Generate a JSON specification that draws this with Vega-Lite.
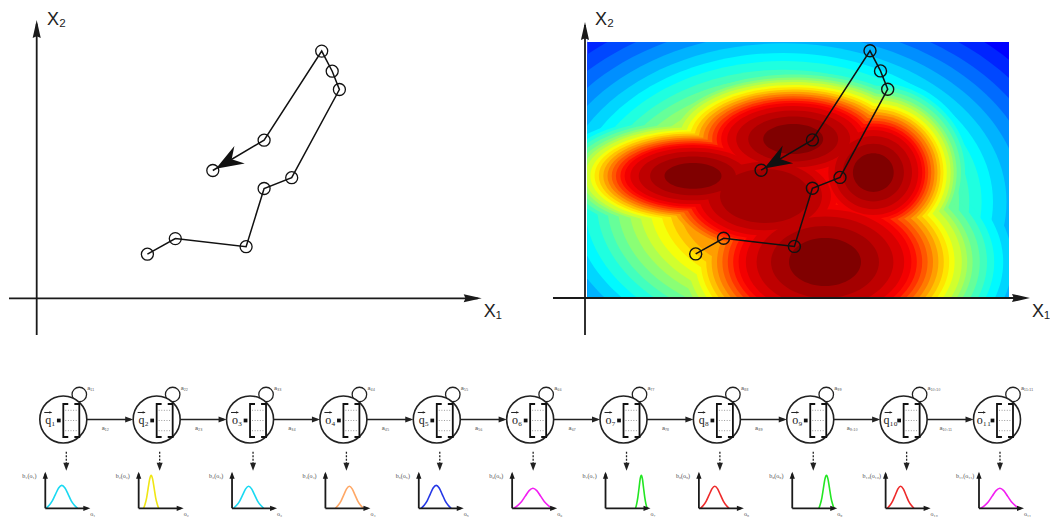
{
  "$schema": "https://vega.github.io/schema/vega-lite/v6.json",
  "padding": 0,
  "background": "white",
  "bounds": "full",
  "spacing": 0,
  "config": {"view": {"stroke": null}},
  "resolve": {"scale": {"color": "independent", "size": "independent", "shape": "independent"}},
  "datasets": {
    "traj": [
      {"k": 1, "x": 3.69, "y": 1.47},
      {"k": 2, "x": 4.62, "y": 1.99},
      {"k": 3, "x": 6.98, "y": 1.72},
      {"k": 4, "x": 7.58, "y": 3.66},
      {"k": 5, "x": 8.5, "y": 4.02},
      {"k": 6, "x": 10.09, "y": 6.96},
      {"k": 7, "x": 9.85, "y": 7.57},
      {"k": 8, "x": 9.5, "y": 8.24},
      {"k": 9, "x": 7.58, "y": 5.27},
      {"k": 10, "x": 5.87, "y": 4.26}
    ],
    "blobs": [
      {"b": "M", "cx": 6.6, "cy": 3.2},
      {"b": "L", "cx": 3.6, "cy": 4.07},
      {"b": "U", "cx": 6.94, "cy": 5.3},
      {"b": "C", "cx": 6.0, "cy": 3.4},
      {"b": "R", "cx": 9.61, "cy": 4.18},
      {"b": "B", "cx": 8.0, "cy": 1.2}
    ],
    "levels": [
      {"b": "M", "lv": 0.04, "r": 10.07}, {"b": "L", "lv": 0.04, "r": 6.65}, {"b": "U", "lv": 0.04, "r": 7.0}, {"b": "C", "lv": 0.04, "r": 7.0}, {"b": "R", "lv": 0.04, "r": 4.75}, {"b": "B", "lv": 0.04, "r": 8.4},
      {"b": "M", "lv": 0.08, "r": 9.52}, {"b": "L", "lv": 0.08, "r": 6.27}, {"b": "U", "lv": 0.08, "r": 6.6}, {"b": "C", "lv": 0.08, "r": 6.6}, {"b": "R", "lv": 0.08, "r": 4.48}, {"b": "B", "lv": 0.08, "r": 7.92},
      {"b": "M", "lv": 0.12, "r": 8.97}, {"b": "L", "lv": 0.12, "r": 5.89}, {"b": "U", "lv": 0.12, "r": 6.2}, {"b": "C", "lv": 0.12, "r": 6.2}, {"b": "R", "lv": 0.12, "r": 4.21}, {"b": "B", "lv": 0.12, "r": 7.44},
      {"b": "M", "lv": 0.16, "r": 8.45}, {"b": "L", "lv": 0.16, "r": 5.56}, {"b": "U", "lv": 0.16, "r": 5.85}, {"b": "C", "lv": 0.16, "r": 5.85}, {"b": "R", "lv": 0.16, "r": 3.97}, {"b": "B", "lv": 0.16, "r": 7.02},
      {"b": "M", "lv": 0.2, "r": 7.94}, {"b": "L", "lv": 0.2, "r": 5.23}, {"b": "U", "lv": 0.2, "r": 5.5}, {"b": "C", "lv": 0.2, "r": 5.5}, {"b": "R", "lv": 0.2, "r": 3.74}, {"b": "B", "lv": 0.2, "r": 6.6},
      {"b": "M", "lv": 0.24, "r": 7.45}, {"b": "L", "lv": 0.24, "r": 4.94}, {"b": "U", "lv": 0.24, "r": 5.2}, {"b": "C", "lv": 0.24, "r": 5.2}, {"b": "R", "lv": 0.24, "r": 3.53}, {"b": "B", "lv": 0.24, "r": 6.24},
      {"b": "M", "lv": 0.28, "r": 7.0}, {"b": "L", "lv": 0.28, "r": 4.7}, {"b": "U", "lv": 0.28, "r": 4.95}, {"b": "C", "lv": 0.28, "r": 4.95}, {"b": "R", "lv": 0.28, "r": 3.36}, {"b": "B", "lv": 0.28, "r": 5.94},
      {"b": "M", "lv": 0.32, "r": 6.62}, {"b": "L", "lv": 0.32, "r": 4.47}, {"b": "U", "lv": 0.32, "r": 4.7}, {"b": "C", "lv": 0.32, "r": 4.7}, {"b": "R", "lv": 0.32, "r": 3.19}, {"b": "B", "lv": 0.32, "r": 5.64},
      {"b": "M", "lv": 0.36, "r": 6.21}, {"b": "L", "lv": 0.36, "r": 4.28}, {"b": "U", "lv": 0.36, "r": 4.5}, {"b": "C", "lv": 0.36, "r": 4.5}, {"b": "R", "lv": 0.36, "r": 3.06}, {"b": "B", "lv": 0.36, "r": 5.4},
      {"b": "M", "lv": 0.4, "r": 5.87}, {"b": "L", "lv": 0.4, "r": 4.09}, {"b": "U", "lv": 0.4, "r": 4.3}, {"b": "C", "lv": 0.4, "r": 4.3}, {"b": "R", "lv": 0.4, "r": 2.92}, {"b": "B", "lv": 0.4, "r": 5.16},
      {"b": "M", "lv": 0.44, "r": 5.52}, {"b": "L", "lv": 0.44, "r": 3.9}, {"b": "U", "lv": 0.44, "r": 4.1}, {"b": "C", "lv": 0.44, "r": 4.1}, {"b": "R", "lv": 0.44, "r": 2.78}, {"b": "B", "lv": 0.44, "r": 4.92},
      {"b": "M", "lv": 0.48, "r": 5.14}, {"b": "L", "lv": 0.48, "r": 3.75}, {"b": "U", "lv": 0.48, "r": 3.95}, {"b": "C", "lv": 0.48, "r": 3.95}, {"b": "R", "lv": 0.48, "r": 2.68}, {"b": "B", "lv": 0.48, "r": 4.74},
      {"b": "M", "lv": 0.52, "r": 4.8}, {"b": "L", "lv": 0.52, "r": 3.61}, {"b": "U", "lv": 0.52, "r": 3.8}, {"b": "C", "lv": 0.52, "r": 3.8}, {"b": "R", "lv": 0.52, "r": 2.58}, {"b": "B", "lv": 0.52, "r": 4.56},
      {"b": "M", "lv": 0.56, "r": 4.45}, {"b": "L", "lv": 0.56, "r": 3.42}, {"b": "U", "lv": 0.56, "r": 3.6}, {"b": "C", "lv": 0.56, "r": 3.6}, {"b": "R", "lv": 0.56, "r": 2.45}, {"b": "B", "lv": 0.56, "r": 4.32},
      {"b": "M", "lv": 0.6, "r": 4.1}, {"b": "L", "lv": 0.6, "r": 3.28}, {"b": "U", "lv": 0.6, "r": 3.45}, {"b": "C", "lv": 0.6, "r": 3.45}, {"b": "R", "lv": 0.6, "r": 2.34}, {"b": "B", "lv": 0.6, "r": 4.14},
      {"b": "M", "lv": 0.64, "r": 3.8}, {"b": "L", "lv": 0.64, "r": 3.14}, {"b": "U", "lv": 0.64, "r": 3.3}, {"b": "C", "lv": 0.64, "r": 3.3}, {"b": "R", "lv": 0.64, "r": 2.24}, {"b": "B", "lv": 0.64, "r": 3.96},
      {"b": "M", "lv": 0.68, "r": 3.48}, {"b": "L", "lv": 0.68, "r": 2.99}, {"b": "U", "lv": 0.68, "r": 3.15}, {"b": "C", "lv": 0.68, "r": 3.15}, {"b": "R", "lv": 0.68, "r": 2.14}, {"b": "B", "lv": 0.68, "r": 3.78},
      {"b": "L", "lv": 0.72, "r": 2.85}, {"b": "U", "lv": 0.72, "r": 3.0}, {"b": "C", "lv": 0.72, "r": 3.0}, {"b": "R", "lv": 0.72, "r": 2.04}, {"b": "B", "lv": 0.72, "r": 3.6},
      {"b": "L", "lv": 0.76, "r": 2.71}, {"b": "U", "lv": 0.76, "r": 2.85}, {"b": "C", "lv": 0.76, "r": 2.85}, {"b": "R", "lv": 0.76, "r": 1.93}, {"b": "B", "lv": 0.76, "r": 3.42},
      {"b": "L", "lv": 0.8, "r": 2.57}, {"b": "U", "lv": 0.8, "r": 2.7}, {"b": "C", "lv": 0.8, "r": 2.7}, {"b": "R", "lv": 0.8, "r": 1.83}, {"b": "B", "lv": 0.8, "r": 3.24},
      {"b": "L", "lv": 0.84, "r": 2.42}, {"b": "U", "lv": 0.84, "r": 2.55}, {"b": "C", "lv": 0.84, "r": 2.55}, {"b": "R", "lv": 0.84, "r": 1.73}, {"b": "B", "lv": 0.84, "r": 3.06},
      {"b": "L", "lv": 0.87, "r": 2.28}, {"b": "U", "lv": 0.87, "r": 2.4}, {"b": "C", "lv": 0.87, "r": 2.4}, {"b": "R", "lv": 0.87, "r": 1.63}, {"b": "B", "lv": 0.87, "r": 2.88},
      {"b": "L", "lv": 0.9, "r": 2.09}, {"b": "U", "lv": 0.9, "r": 2.2}, {"b": "C", "lv": 0.9, "r": 2.2}, {"b": "R", "lv": 0.9, "r": 1.5}, {"b": "B", "lv": 0.9, "r": 2.64},
      {"b": "L", "lv": 0.93, "r": 1.81}, {"b": "U", "lv": 0.93, "r": 1.9}, {"b": "C", "lv": 0.93, "r": 1.9}, {"b": "R", "lv": 0.93, "r": 1.29}, {"b": "B", "lv": 0.93, "r": 2.28},
      {"b": "L", "lv": 0.96, "r": 1.43}, {"b": "U", "lv": 0.96, "r": 1.5}, {"b": "C", "lv": 0.96, "r": 1.5}, {"b": "R", "lv": 0.96, "r": 1.02}, {"b": "B", "lv": 0.96, "r": 1.8},
      {"b": "L", "lv": 1.0, "r": 0.95}, {"b": "U", "lv": 1.0, "r": 1.0}, {"b": "R", "lv": 1.0, "r": 0.68}, {"b": "B", "lv": 1.0, "r": 1.2}
    ],
    "states": [
      {"t": 1, "v": "q₁", "a": "a₁₁", "b": "b₁(o₁)", "o": "o₁"},
      {"t": 2, "v": "q₂", "a": "a₂₂", "b": "b₂(o₂)", "o": "o₂"},
      {"t": 3, "v": "o₃", "a": "a₃₃", "b": "b₃(o₃)", "o": "o₃"},
      {"t": 4, "v": "o₄", "a": "a₄₄", "b": "b₄(o₄)", "o": "o₄"},
      {"t": 5, "v": "q₅", "a": "a₅₅", "b": "b₅(o₅)", "o": "o₅"},
      {"t": 6, "v": "o₆", "a": "a₆₆", "b": "b₆(o₆)", "o": "o₆"},
      {"t": 7, "v": "o₇", "a": "a₇₇", "b": "b₇(o₇)", "o": "o₇"},
      {"t": 8, "v": "q₈", "a": "a₈₈", "b": "b₈(o₈)", "o": "o₈"},
      {"t": 9, "v": "o₉", "a": "a₉₉", "b": "b₉(o₉)", "o": "o₉"},
      {"t": 10, "v": "q₁₀", "a": "a₁₀,₁₀", "b": "b₁₀(o₁₀)", "o": "o₁₀"},
      {"t": 11, "v": "o₁₁", "a": "a₁₁,₁₁", "b": "b₁₁(o₁₁)", "o": "o₁₁"}
    ],
    "trans": [
      {"t": 1, "n": 2, "lab": "a₁₂"}, {"t": 2, "n": 3, "lab": "a₂₃"}, {"t": 3, "n": 4, "lab": "a₃₄"},
      {"t": 4, "n": 5, "lab": "a₄₅"}, {"t": 5, "n": 6, "lab": "a₅₆"}, {"t": 6, "n": 7, "lab": "a₆₇"},
      {"t": 7, "n": 8, "lab": "a₇₈"}, {"t": 8, "n": 9, "lab": "a₈₉"}, {"t": 9, "n": 10, "lab": "a₉,₁₀"},
      {"t": 10, "n": 11, "lab": "a₁₀,₁₁"}
    ],
    "curves": [
      {"t": 1, "x": 0.815, "y": 0}, {"t": 1, "x": 0.849, "y": 0.033}, {"t": 1, "x": 0.882, "y": 0.08}, {"t": 1, "x": 0.916, "y": 0.15}, {"t": 1, "x": 0.95, "y": 0.217}, {"t": 1, "x": 0.984, "y": 0.246}, {"t": 1, "x": 1.018, "y": 0.217}, {"t": 1, "x": 1.052, "y": 0.15}, {"t": 1, "x": 1.085, "y": 0.08}, {"t": 1, "x": 1.119, "y": 0.033}, {"t": 1, "x": 1.153, "y": 0},
      {"t": 2, "x": 1.861, "y": 0}, {"t": 2, "x": 1.877, "y": 0.048}, {"t": 2, "x": 1.893, "y": 0.115}, {"t": 2, "x": 1.909, "y": 0.215}, {"t": 2, "x": 1.925, "y": 0.312}, {"t": 2, "x": 1.941, "y": 0.353}, {"t": 2, "x": 1.957, "y": 0.312}, {"t": 2, "x": 1.973, "y": 0.215}, {"t": 2, "x": 1.989, "y": 0.115}, {"t": 2, "x": 2.005, "y": 0.048}, {"t": 2, "x": 2.021, "y": 0},
      {"t": 3, "x": 2.824, "y": 0}, {"t": 3, "x": 2.856, "y": 0.032}, {"t": 3, "x": 2.889, "y": 0.077}, {"t": 3, "x": 2.921, "y": 0.143}, {"t": 3, "x": 2.953, "y": 0.208}, {"t": 3, "x": 2.985, "y": 0.236}, {"t": 3, "x": 3.017, "y": 0.208}, {"t": 3, "x": 3.049, "y": 0.143}, {"t": 3, "x": 3.081, "y": 0.077}, {"t": 3, "x": 3.114, "y": 0.032}, {"t": 3, "x": 3.146, "y": 0},
      {"t": 4, "x": 3.914, "y": 0}, {"t": 4, "x": 3.944, "y": 0.032}, {"t": 4, "x": 3.974, "y": 0.077}, {"t": 4, "x": 4.004, "y": 0.143}, {"t": 4, "x": 4.034, "y": 0.208}, {"t": 4, "x": 4.064, "y": 0.236}, {"t": 4, "x": 4.094, "y": 0.208}, {"t": 4, "x": 4.124, "y": 0.143}, {"t": 4, "x": 4.154, "y": 0.077}, {"t": 4, "x": 4.184, "y": 0.032}, {"t": 4, "x": 4.214, "y": 0},
      {"t": 5, "x": 4.833, "y": 0}, {"t": 5, "x": 4.865, "y": 0.033}, {"t": 5, "x": 4.897, "y": 0.08}, {"t": 5, "x": 4.929, "y": 0.15}, {"t": 5, "x": 4.961, "y": 0.217}, {"t": 5, "x": 4.994, "y": 0.246}, {"t": 5, "x": 5.026, "y": 0.217}, {"t": 5, "x": 5.058, "y": 0.15}, {"t": 5, "x": 5.09, "y": 0.08}, {"t": 5, "x": 5.122, "y": 0.033}, {"t": 5, "x": 5.154, "y": 0},
      {"t": 6, "x": 5.824, "y": 0}, {"t": 6, "x": 5.865, "y": 0.029}, {"t": 6, "x": 5.907, "y": 0.07}, {"t": 6, "x": 5.948, "y": 0.13}, {"t": 6, "x": 5.989, "y": 0.189}, {"t": 6, "x": 6.03, "y": 0.214}, {"t": 6, "x": 6.071, "y": 0.189}, {"t": 6, "x": 6.112, "y": 0.13}, {"t": 6, "x": 6.153, "y": 0.07}, {"t": 6, "x": 6.195, "y": 0.029}, {"t": 6, "x": 6.236, "y": 0},
      {"t": 7, "x": 7.129, "y": 0}, {"t": 7, "x": 7.141, "y": 0.048}, {"t": 7, "x": 7.153, "y": 0.115}, {"t": 7, "x": 7.166, "y": 0.215}, {"t": 7, "x": 7.178, "y": 0.312}, {"t": 7, "x": 7.191, "y": 0.353}, {"t": 7, "x": 7.203, "y": 0.312}, {"t": 7, "x": 7.215, "y": 0.215}, {"t": 7, "x": 7.228, "y": 0.115}, {"t": 7, "x": 7.24, "y": 0.048}, {"t": 7, "x": 7.253, "y": 0},
      {"t": 8, "x": 7.825, "y": 0}, {"t": 8, "x": 7.856, "y": 0.032}, {"t": 8, "x": 7.886, "y": 0.077}, {"t": 8, "x": 7.917, "y": 0.143}, {"t": 8, "x": 7.947, "y": 0.208}, {"t": 8, "x": 7.978, "y": 0.236}, {"t": 8, "x": 8.008, "y": 0.208}, {"t": 8, "x": 8.038, "y": 0.143}, {"t": 8, "x": 8.069, "y": 0.077}, {"t": 8, "x": 8.099, "y": 0.032}, {"t": 8, "x": 8.13, "y": 0},
      {"t": 9, "x": 9.093, "y": 0}, {"t": 9, "x": 9.109, "y": 0.048}, {"t": 9, "x": 9.125, "y": 0.115}, {"t": 9, "x": 9.141, "y": 0.215}, {"t": 9, "x": 9.157, "y": 0.312}, {"t": 9, "x": 9.174, "y": 0.353}, {"t": 9, "x": 9.19, "y": 0.312}, {"t": 9, "x": 9.206, "y": 0.215}, {"t": 9, "x": 9.222, "y": 0.115}, {"t": 9, "x": 9.238, "y": 0.048}, {"t": 9, "x": 9.254, "y": 0},
      {"t": 10, "x": 9.825, "y": 0}, {"t": 10, "x": 9.854, "y": 0.032}, {"t": 10, "x": 9.882, "y": 0.077}, {"t": 10, "x": 9.911, "y": 0.143}, {"t": 10, "x": 9.939, "y": 0.208}, {"t": 10, "x": 9.968, "y": 0.236}, {"t": 10, "x": 9.996, "y": 0.208}, {"t": 10, "x": 10.025, "y": 0.143}, {"t": 10, "x": 10.053, "y": 0.077}, {"t": 10, "x": 10.082, "y": 0.032}, {"t": 10, "x": 10.11, "y": 0},
      {"t": 11, "x": 10.825, "y": 0}, {"t": 11, "x": 10.867, "y": 0.029}, {"t": 11, "x": 10.908, "y": 0.07}, {"t": 11, "x": 10.949, "y": 0.13}, {"t": 11, "x": 10.99, "y": 0.189}, {"t": 11, "x": 11.031, "y": 0.214}, {"t": 11, "x": 11.072, "y": 0.189}, {"t": 11, "x": 11.113, "y": 0.13}, {"t": 11, "x": 11.154, "y": 0.07}, {"t": 11, "x": 11.196, "y": 0.029}, {"t": 11, "x": 11.237, "y": 0}
    ]
  },
  "vconcat": [
    {
      "hconcat": [
        {
          "width": 525,
          "height": 345,
          "layer": [
            {
              "data": {"values": [{}]},
              "mark": {"type": "rule", "stroke": "#1a1a1a", "strokeWidth": 1.8},
              "encoding": {
                "x": {"datum": -0.923, "type": "quantitative", "scale": {"domain": [-1.2233, 16.2767], "nice": false, "zero": false}, "axis": null},
                "x2": {"datum": 14.7},
                "y": {"datum": 0, "type": "quantitative", "scale": {"domain": [-1.5567, 9.9433], "nice": false, "zero": false}, "axis": null}
              }
            },
            {
              "data": {"values": [{}]},
              "mark": {"type": "rule", "stroke": "#1a1a1a", "strokeWidth": 1.8},
              "encoding": {
                "x": {"datum": 0, "type": "quantitative", "scale": {"domain": [-1.2233, 16.2767], "nice": false, "zero": false}, "axis": null},
                "y": {"datum": -1.223, "type": "quantitative", "scale": {"domain": [-1.5567, 9.9433], "nice": false, "zero": false}, "axis": null},
                "y2": {"datum": 9.15}
              }
            },
            {
              "data": {"values": [{}]},
              "mark": {"type": "point", "shape": "M0 0L-2 -0.45L-1.8 0L-2 0.45Z", "size": 324, "filled": true, "color": "#1a1a1a", "opacity": 1, "angle": 0},
              "encoding": {
                "x": {"datum": 14.833, "type": "quantitative", "scale": {"domain": [-1.2233, 16.2767], "nice": false, "zero": false}, "axis": null},
                "y": {"datum": 0, "type": "quantitative", "scale": {"domain": [-1.5567, 9.9433], "nice": false, "zero": false}, "axis": null}
              }
            },
            {
              "data": {"values": [{}]},
              "mark": {"type": "point", "shape": "M0 0L-2 -0.45L-1.8 0L-2 0.45Z", "size": 324, "filled": true, "color": "#1a1a1a", "opacity": 1, "angle": 270},
              "encoding": {
                "x": {"datum": 0, "type": "quantitative", "scale": {"domain": [-1.2233, 16.2767], "nice": false, "zero": false}, "axis": null},
                "y": {"datum": 9.277, "type": "quantitative", "scale": {"domain": [-1.5567, 9.9433], "nice": false, "zero": false}, "axis": null}
              }
            },
            {
              "data": {"values": [{}]},
              "mark": {"type": "text", "text": "X₁", "font": "Liberation Sans", "fontSize": 18, "align": "left", "baseline": "alphabetic", "color": "#222"},
              "encoding": {
                "x": {"datum": 14.9, "type": "quantitative", "scale": {"domain": [-1.2233, 16.2767], "nice": false, "zero": false}, "axis": null},
                "y": {"datum": -0.62, "type": "quantitative", "scale": {"domain": [-1.5567, 9.9433], "nice": false, "zero": false}, "axis": null}
              }
            },
            {
              "data": {"values": [{}]},
              "mark": {"type": "text", "text": "X₂", "font": "Liberation Sans", "fontSize": 18, "align": "left", "baseline": "alphabetic", "color": "#222"},
              "encoding": {
                "x": {"datum": 0.34, "type": "quantitative", "scale": {"domain": [-1.2233, 16.2767], "nice": false, "zero": false}, "axis": null},
                "y": {"datum": 9.11, "type": "quantitative", "scale": {"domain": [-1.5567, 9.9433], "nice": false, "zero": false}, "axis": null}
              }
            },
            {
              "data": {"name": "traj"},
              "mark": {"type": "line", "stroke": "#111", "strokeWidth": 1.5},
              "encoding": {
                "x": {"field": "x", "type": "quantitative", "scale": {"domain": [-1.2233, 16.2767], "nice": false, "zero": false}, "axis": null},
                "y": {"field": "y", "type": "quantitative", "scale": {"domain": [-1.5567, 9.9433], "nice": false, "zero": false}, "axis": null},
                "order": {"field": "k"}
              }
            },
            {
              "data": {"name": "traj"},
              "mark": {"type": "point", "filled": false, "stroke": "#111", "strokeWidth": 1.3, "size": 144, "opacity": 1},
              "encoding": {
                "x": {"field": "x", "type": "quantitative", "scale": {"domain": [-1.2233, 16.2767], "nice": false, "zero": false}, "axis": null},
                "y": {"field": "y", "type": "quantitative", "scale": {"domain": [-1.5567, 9.9433], "nice": false, "zero": false}, "axis": null}
              }
            },
            {
              "data": {"name": "traj"},
              "transform": [{"filter": "datum.k == 10"}],
              "mark": {"type": "point", "shape": "M-0.25 0L-2.2 -0.72L-1.55 0L-2.2 0.72Z", "size": 800, "filled": true, "color": "#111", "opacity": 1, "angle": 149.4},
              "encoding": {
                "x": {"field": "x", "type": "quantitative", "scale": {"domain": [-1.2233, 16.2767], "nice": false, "zero": false}, "axis": null},
                "y": {"field": "y", "type": "quantitative", "scale": {"domain": [-1.5567, 9.9433], "nice": false, "zero": false}, "axis": null}
              }
            }
          ]
        },
        {
          "width": 421.7,
          "height": 298,
          "layer": [
            {
              "data": {"values": [{}]},
              "mark": {"type": "rect", "color": "#0000ff", "clip": true},
              "encoding": {
                "x": {"datum": 0.0767, "type": "quantitative", "scale": {"domain": [0.0767, 14.1333], "nice": false, "zero": false}, "axis": null},
                "x2": {"datum": 14.1333},
                "y": {"datum": 0, "type": "quantitative", "scale": {"domain": [0, 9.9333], "nice": false, "zero": false}, "axis": null},
                "y2": {"datum": 8.533}
              }
            },
            {
              "data": {"name": "levels"},
              "transform": [{"lookup": "b", "from": {"data": {"name": "blobs"}, "key": "b", "fields": ["cx", "cy"]}}],
              "mark": {"type": "point", "filled": true, "opacity": 1, "strokeWidth": 0, "clip": true},
              "encoding": {
                "x": {"field": "cx", "type": "quantitative", "scale": {"domain": [0.0767, 14.1333], "nice": false, "zero": false}, "axis": null},
                "y": {"field": "cy", "type": "quantitative", "scale": {"domain": [0, 9.9333], "nice": false, "zero": false}, "axis": null},
                "size": {"field": "r", "type": "quantitative", "scale": {"type": "pow", "exponent": 2, "domain": [0, 10], "range": [0, 360000], "zero": true, "nice": false}, "legend": null},
                "shape": {
                  "field": "b", "type": "nominal", "legend": null,
                  "scale": {
                    "domain": ["M", "L", "U", "C", "R", "B"],
                    "range": [
                      "M-1 0C-1 -0.392 -0.552 -0.71 0 -0.71C0.552 -0.71 1 -0.392 1 0C1 0.392 0.552 0.71 0 0.71C-0.552 0.71 -1 0.392 -1 0Z",
                      "M-1 0C-1 -0.248 -0.552 -0.45 0 -0.45C0.552 -0.45 1 -0.248 1 0C1 0.248 0.552 0.45 0 0.45C-0.552 0.45 -1 0.248 -1 0Z",
                      "M-1 0C-1 -0.276 -0.552 -0.5 0 -0.5C0.552 -0.5 1 -0.276 1 0C1 0.276 0.552 0.5 0 0.5C-0.552 0.5 -1 0.276 -1 0Z",
                      "M-1 0C-1 -0.331 -0.552 -0.6 0 -0.6C0.552 -0.6 1 -0.331 1 0C1 0.331 0.552 0.6 0 0.6C-0.552 0.6 -1 0.331 -1 0Z",
                      "M-1 0C-1 -0.522 -0.552 -0.945 0 -0.945C0.552 -0.945 1 -0.522 1 0C1 0.522 0.552 0.945 0 0.945C-0.552 0.945 -1 0.522 -1 0Z",
                      "M-1 0C-1 -0.368 -0.552 -0.667 0 -0.667C0.552 -0.667 1 -0.368 1 0C1 0.368 0.552 0.667 0 0.667C-0.552 0.667 -1 0.368 -1 0Z"
                    ]
                  }
                },
                "color": {
                  "field": "lv", "type": "quantitative", "legend": null,
                  "scale": {"domain": [0, 0.2857, 0.5714, 0.857, 1], "range": ["#0000ff", "#00ffff", "#ffff00", "#ff0000", "#800000"], "interpolate": "rgb"}
                }
              }
            },
            {
              "data": {"values": [{}]},
              "mark": {"type": "rect", "color": "#ffffff", "clip": true},
              "encoding": {
                "x": {"datum": 0, "type": "quantitative", "scale": {"domain": [0.0767, 14.1333], "nice": false, "zero": false}, "axis": null},
                "x2": {"datum": 14.2},
                "y": {"datum": 8.533, "type": "quantitative", "scale": {"domain": [0, 9.9333], "nice": false, "zero": false}, "axis": null},
                "y2": {"datum": 10.5}
              }
            },
            {
              "data": {"values": [{}]},
              "mark": {"type": "rule", "stroke": "#1a1a1a", "strokeWidth": 1.8},
              "encoding": {
                "x": {"datum": -1.067, "type": "quantitative", "scale": {"domain": [0.0767, 14.1333], "nice": false, "zero": false}, "axis": null},
                "x2": {"datum": 14.7},
                "y": {"datum": 0, "type": "quantitative", "scale": {"domain": [0, 9.9333], "nice": false, "zero": false}, "axis": null}
              }
            },
            {
              "data": {"values": [{}]},
              "mark": {"type": "rule", "stroke": "#1a1a1a", "strokeWidth": 1.8},
              "encoding": {
                "x": {"datum": 0, "type": "quantitative", "scale": {"domain": [0.0767, 14.1333], "nice": false, "zero": false}, "axis": null},
                "y": {"datum": -1.233, "type": "quantitative", "scale": {"domain": [0, 9.9333], "nice": false, "zero": false}, "axis": null},
                "y2": {"datum": 9.1}
              }
            },
            {
              "data": {"values": [{}]},
              "mark": {"type": "point", "shape": "M0 0L-2 -0.45L-1.8 0L-2 0.45Z", "size": 324, "filled": true, "color": "#1a1a1a", "opacity": 1, "angle": 0},
              "encoding": {
                "x": {"datum": 14.833, "type": "quantitative", "scale": {"domain": [0.0767, 14.1333], "nice": false, "zero": false}, "axis": null},
                "y": {"datum": 0, "type": "quantitative", "scale": {"domain": [0, 9.9333], "nice": false, "zero": false}, "axis": null}
              }
            },
            {
              "data": {"values": [{}]},
              "mark": {"type": "point", "shape": "M0 0L-2 -0.45L-1.8 0L-2 0.45Z", "size": 324, "filled": true, "color": "#1a1a1a", "opacity": 1, "angle": 270},
              "encoding": {
                "x": {"datum": 0, "type": "quantitative", "scale": {"domain": [0.0767, 14.1333], "nice": false, "zero": false}, "axis": null},
                "y": {"datum": 9.2, "type": "quantitative", "scale": {"domain": [0, 9.9333], "nice": false, "zero": false}, "axis": null}
              }
            },
            {
              "data": {"values": [{}]},
              "mark": {"type": "text", "text": "X₁", "font": "Liberation Sans", "fontSize": 18, "align": "left", "baseline": "alphabetic", "color": "#222"},
              "encoding": {
                "x": {"datum": 14.9, "type": "quantitative", "scale": {"domain": [0.0767, 14.1333], "nice": false, "zero": false}, "axis": null},
                "y": {"datum": -0.62, "type": "quantitative", "scale": {"domain": [0, 9.9333], "nice": false, "zero": false}, "axis": null}
              }
            },
            {
              "data": {"values": [{}]},
              "mark": {"type": "text", "text": "X₂", "font": "Liberation Sans", "fontSize": 18, "align": "left", "baseline": "alphabetic", "color": "#222"},
              "encoding": {
                "x": {"datum": 0.33, "type": "quantitative", "scale": {"domain": [0.0767, 14.1333], "nice": false, "zero": false}, "axis": null},
                "y": {"datum": 9.1, "type": "quantitative", "scale": {"domain": [0, 9.9333], "nice": false, "zero": false}, "axis": null}
              }
            },
            {
              "data": {"name": "traj"},
              "mark": {"type": "line", "stroke": "#111", "strokeWidth": 1.5},
              "encoding": {
                "x": {"field": "x", "type": "quantitative", "scale": {"domain": [0.0767, 14.1333], "nice": false, "zero": false}, "axis": null},
                "y": {"field": "y", "type": "quantitative", "scale": {"domain": [0, 9.9333], "nice": false, "zero": false}, "axis": null},
                "order": {"field": "k"}
              }
            },
            {
              "data": {"name": "traj"},
              "mark": {"type": "point", "filled": false, "stroke": "#111", "strokeWidth": 1.4, "size": 144, "opacity": 1},
              "encoding": {
                "x": {"field": "x", "type": "quantitative", "scale": {"domain": [0.0767, 14.1333], "nice": false, "zero": false}, "axis": null},
                "y": {"field": "y", "type": "quantitative", "scale": {"domain": [0, 9.9333], "nice": false, "zero": false}, "axis": null}
              }
            },
            {
              "data": {"name": "traj"},
              "transform": [{"filter": "datum.k == 10"}],
              "mark": {"type": "point", "shape": "M-0.25 0L-2.2 -0.72L-1.55 0L-2.2 0.72Z", "size": 800, "filled": true, "color": "#111", "opacity": 1, "angle": 149.4},
              "encoding": {
                "x": {"field": "x", "type": "quantitative", "scale": {"domain": [0.0767, 14.1333], "nice": false, "zero": false}, "axis": null},
                "y": {"field": "y", "type": "quantitative", "scale": {"domain": [0, 9.9333], "nice": false, "zero": false}, "axis": null}
              }
            }
          ]
        }
      ],
      "spacing": 62.3,
      "bounds": "flush",
      "resolve": {"scale": {"color": "independent", "size": "independent", "shape": "independent"}}
    },
    {
      "width": 1050,
      "height": 177,
      "layer": [
        {
          "data": {"name": "states"},
          "mark": {"type": "point", "filled": false, "stroke": "#222", "strokeWidth": 1.3, "size": 210, "opacity": 1, "xOffset": 16, "yOffset": -25},
          "encoding": {
            "x": {"field": "t", "type": "quantitative", "scale": {"domain": [0.32205, 11.5677], "nice": false, "zero": false}, "axis": null},
            "y": {"datum": 0.9511, "type": "quantitative", "scale": {"domain": [-0.14673, 1.749], "nice": false, "zero": false}, "axis": null}
          }
        },
        {
          "data": {"name": "states"},
          "mark": {"type": "point", "filled": true, "fill": "#ffffff", "stroke": "#222", "strokeWidth": 1.6, "size": 2209, "opacity": 1},
          "encoding": {
            "x": {"field": "t", "type": "quantitative", "scale": {"domain": [0.32205, 11.5677], "nice": false, "zero": false}, "axis": null},
            "y": {"datum": 0.9511, "type": "quantitative", "scale": {"domain": [-0.14673, 1.749], "nice": false, "zero": false}, "axis": null}
          }
        },
        {
          "data": {"name": "states"},
          "mark": {"type": "point", "shape": "M0.3 -1L0 -1L0 1L0.3 1", "filled": false, "stroke": "#111", "strokeWidth": 1.8, "size": 1089, "opacity": 1, "xOffset": 0, "yOffset": 1},
          "encoding": {
            "x": {"field": "t", "type": "quantitative", "scale": {"domain": [0.32205, 11.5677], "nice": false, "zero": false}, "axis": null},
            "y": {"datum": 0.9511, "type": "quantitative", "scale": {"domain": [-0.14673, 1.749], "nice": false, "zero": false}, "axis": null}
          }
        },
        {
          "data": {"name": "states"},
          "mark": {"type": "point", "shape": "M-0.3 -1L0 -1L0 1L-0.3 1", "filled": false, "stroke": "#111", "strokeWidth": 1.8, "size": 1089, "opacity": 1, "xOffset": 16, "yOffset": 1},
          "encoding": {
            "x": {"field": "t", "type": "quantitative", "scale": {"domain": [0.32205, 11.5677], "nice": false, "zero": false}, "axis": null},
            "y": {"datum": 0.9511, "type": "quantitative", "scale": {"domain": [-0.14673, 1.749], "nice": false, "zero": false}, "axis": null}
          }
        },
        {
          "data": {"name": "states"},
          "mark": {"type": "point", "shape": "M-1 -1.7L1 -1.7M-1 0L1 0M-1 1.7L1 1.7", "filled": false, "stroke": "#9a9a9a", "strokeWidth": 1, "strokeDash": [1, 1.6], "size": 144, "opacity": 1, "xOffset": 8, "yOffset": 1},
          "encoding": {
            "x": {"field": "t", "type": "quantitative", "scale": {"domain": [0.32205, 11.5677], "nice": false, "zero": false}, "axis": null},
            "y": {"datum": 0.9511, "type": "quantitative", "scale": {"domain": [-0.14673, 1.749], "nice": false, "zero": false}, "axis": null}
          }
        },
        {
          "data": {"name": "states"},
          "mark": {"type": "point", "shape": "square", "filled": true, "color": "#111", "size": 14, "opacity": 1, "xOffset": -4.5, "yOffset": 1},
          "encoding": {
            "x": {"field": "t", "type": "quantitative", "scale": {"domain": [0.32205, 11.5677], "nice": false, "zero": false}, "axis": null},
            "y": {"datum": 0.9511, "type": "quantitative", "scale": {"domain": [-0.14673, 1.749], "nice": false, "zero": false}, "axis": null}
          }
        },
        {
          "data": {"name": "states"},
          "mark": {"type": "text", "font": "Liberation Serif", "fontSize": 12, "align": "center", "dx": -13, "dy": 1, "color": "#222"},
          "encoding": {
            "x": {"field": "t", "type": "quantitative", "scale": {"domain": [0.32205, 11.5677], "nice": false, "zero": false}, "axis": null},
            "y": {"datum": 0.9511, "type": "quantitative", "scale": {"domain": [-0.14673, 1.749], "nice": false, "zero": false}, "axis": null},
            "text": {"field": "v"}
          }
        },
        {
          "data": {"name": "states"},
          "mark": {"type": "rule", "stroke": "#222", "strokeWidth": 1, "xOffset": -19, "x2Offset": -12, "yOffset": -7},
          "encoding": {
            "x": {"field": "t", "type": "quantitative", "scale": {"domain": [0.32205, 11.5677], "nice": false, "zero": false}, "axis": null},
            "x2": {"field": "t"},
            "y": {"datum": 0.9511, "type": "quantitative", "scale": {"domain": [-0.14673, 1.749], "nice": false, "zero": false}, "axis": null}
          }
        },
        {
          "data": {"name": "states"},
          "mark": {"type": "point", "shape": "M0 0L-2 -0.75L-2 0.75Z", "size": 9, "filled": true, "color": "#222", "opacity": 1, "xOffset": -11, "yOffset": -7},
          "encoding": {
            "x": {"field": "t", "type": "quantitative", "scale": {"domain": [0.32205, 11.5677], "nice": false, "zero": false}, "axis": null},
            "y": {"datum": 0.9511, "type": "quantitative", "scale": {"domain": [-0.14673, 1.749], "nice": false, "zero": false}, "axis": null}
          }
        },
        {
          "data": {"name": "states"},
          "mark": {"type": "text", "font": "Liberation Sans", "fontSize": 5.5, "align": "left", "dx": 24, "dy": -31, "color": "#555"},
          "encoding": {
            "x": {"field": "t", "type": "quantitative", "scale": {"domain": [0.32205, 11.5677], "nice": false, "zero": false}, "axis": null},
            "y": {"datum": 0.9511, "type": "quantitative", "scale": {"domain": [-0.14673, 1.749], "nice": false, "zero": false}, "axis": null},
            "text": {"field": "a"}
          }
        },
        {
          "data": {"name": "trans"},
          "mark": {"type": "rule", "stroke": "#222", "strokeWidth": 1.5, "xOffset": 23.5, "x2Offset": -26},
          "encoding": {
            "x": {"field": "t", "type": "quantitative", "scale": {"domain": [0.32205, 11.5677], "nice": false, "zero": false}, "axis": null},
            "x2": {"field": "n"},
            "y": {"datum": 0.9511, "type": "quantitative", "scale": {"domain": [-0.14673, 1.749], "nice": false, "zero": false}, "axis": null}
          }
        },
        {
          "data": {"name": "trans"},
          "mark": {"type": "point", "shape": "M0 0L-2 -0.75L-2 0.75Z", "size": 64, "filled": true, "color": "#222", "opacity": 1, "xOffset": -23.5},
          "encoding": {
            "x": {"field": "n", "type": "quantitative", "scale": {"domain": [0.32205, 11.5677], "nice": false, "zero": false}, "axis": null},
            "y": {"datum": 0.9511, "type": "quantitative", "scale": {"domain": [-0.14673, 1.749], "nice": false, "zero": false}, "axis": null}
          }
        },
        {
          "data": {"name": "trans"},
          "mark": {"type": "text", "font": "Liberation Sans", "fontSize": 5.5, "dx": 42, "dy": 9, "color": "#555"},
          "encoding": {
            "x": {"field": "t", "type": "quantitative", "scale": {"domain": [0.32205, 11.5677], "nice": false, "zero": false}, "axis": null},
            "y": {"datum": 0.9511, "type": "quantitative", "scale": {"domain": [-0.14673, 1.749], "nice": false, "zero": false}, "axis": null},
            "text": {"field": "lab"}
          }
        },
        {
          "data": {"name": "states"},
          "mark": {"type": "rule", "stroke": "#222", "strokeWidth": 1.3, "strokeDash": [2, 1.5], "xOffset": 3},
          "encoding": {
            "x": {"field": "t", "type": "quantitative", "scale": {"domain": [0.32205, 11.5677], "nice": false, "zero": false}, "axis": null},
            "y": {"datum": 0.6062, "type": "quantitative", "scale": {"domain": [-0.14673, 1.749], "nice": false, "zero": false}, "axis": null},
            "y2": {"datum": 0.44}
          }
        },
        {
          "data": {"name": "states"},
          "mark": {"type": "point", "shape": "M0 0L-2 -0.75L-2 0.75Z", "size": 64, "filled": true, "color": "#222", "opacity": 1, "xOffset": 3, "angle": 90},
          "encoding": {
            "x": {"field": "t", "type": "quantitative", "scale": {"domain": [0.32205, 11.5677], "nice": false, "zero": false}, "axis": null},
            "y": {"datum": 0.4016, "type": "quantitative", "scale": {"domain": [-0.14673, 1.749], "nice": false, "zero": false}, "axis": null}
          }
        },
        {
          "data": {"name": "curves"},
          "mark": {"type": "line", "strokeWidth": 1.6, "interpolate": "monotone"},
          "encoding": {
            "x": {"field": "x", "type": "quantitative", "scale": {"domain": [0.32205, 11.5677], "nice": false, "zero": false}, "axis": null},
            "y": {"field": "y", "type": "quantitative", "scale": {"domain": [-0.14673, 1.749], "nice": false, "zero": false}, "axis": null},
            "color": {
              "field": "t", "type": "nominal", "legend": null,
              "scale": {"domain": [1, 2, 3, 4, 5, 6, 7, 8, 9, 10, 11], "range": ["#19d9f2", "#f0e614", "#19d9f2", "#ffa866", "#2437e6", "#f21ef2", "#22e622", "#ee2a2a", "#22e622", "#ee2a2a", "#f21ef2"]}
            }
          }
        },
        {
          "data": {"name": "states"},
          "mark": {"type": "rule", "stroke": "#1a1a1a", "strokeWidth": 1.8, "xOffset": -18},
          "encoding": {
            "x": {"field": "t", "type": "quantitative", "scale": {"domain": [0.32205, 11.5677], "nice": false, "zero": false}, "axis": null},
            "y": {"datum": 0, "type": "quantitative", "scale": {"domain": [-0.14673, 1.749], "nice": false, "zero": false}, "axis": null},
            "y2": {"datum": 0.37}
          }
        },
        {
          "data": {"name": "states"},
          "mark": {"type": "rule", "stroke": "#1a1a1a", "strokeWidth": 1.8, "xOffset": -18, "x2Offset": 24},
          "encoding": {
            "x": {"field": "t", "type": "quantitative", "scale": {"domain": [0.32205, 11.5677], "nice": false, "zero": false}, "axis": null},
            "x2": {"field": "t"},
            "y": {"datum": 0, "type": "quantitative", "scale": {"domain": [-0.14673, 1.749], "nice": false, "zero": false}, "axis": null}
          }
        },
        {
          "data": {"name": "states"},
          "mark": {"type": "point", "shape": "M0 0L-2 -0.75L-2 0.75Z", "size": 49, "filled": true, "color": "#1a1a1a", "opacity": 1, "xOffset": -18, "angle": 270},
          "encoding": {
            "x": {"field": "t", "type": "quantitative", "scale": {"domain": [0.32205, 11.5677], "nice": false, "zero": false}, "axis": null},
            "y": {"datum": 0.392, "type": "quantitative", "scale": {"domain": [-0.14673, 1.749], "nice": false, "zero": false}, "axis": null}
          }
        },
        {
          "data": {"name": "states"},
          "mark": {"type": "point", "shape": "M0 0L-2 -0.75L-2 0.75Z", "size": 49, "filled": true, "color": "#1a1a1a", "opacity": 1, "xOffset": 27, "angle": 0},
          "encoding": {
            "x": {"field": "t", "type": "quantitative", "scale": {"domain": [0.32205, 11.5677], "nice": false, "zero": false}, "axis": null},
            "y": {"datum": 0, "type": "quantitative", "scale": {"domain": [-0.14673, 1.749], "nice": false, "zero": false}, "axis": null}
          }
        },
        {
          "data": {"name": "states"},
          "mark": {"type": "text", "font": "Liberation Serif", "fontSize": 6, "align": "left", "dx": -41, "color": "#444"},
          "encoding": {
            "x": {"field": "t", "type": "quantitative", "scale": {"domain": [0.32205, 11.5677], "nice": false, "zero": false}, "axis": null},
            "y": {"datum": 0.3427, "type": "quantitative", "scale": {"domain": [-0.14673, 1.749], "nice": false, "zero": false}, "axis": null},
            "text": {"field": "b"}
          }
        },
        {
          "data": {"name": "states"},
          "mark": {"type": "text", "font": "Liberation Serif", "fontSize": 6, "align": "left", "dx": 27, "color": "#444"},
          "encoding": {
            "x": {"field": "t", "type": "quantitative", "scale": {"domain": [0.32205, 11.5677], "nice": false, "zero": false}, "axis": null},
            "y": {"datum": -0.0557, "type": "quantitative", "scale": {"domain": [-0.14673, 1.749], "nice": false, "zero": false}, "axis": null},
            "text": {"field": "o"}
          }
        }
      ]
    }
  ]
}
